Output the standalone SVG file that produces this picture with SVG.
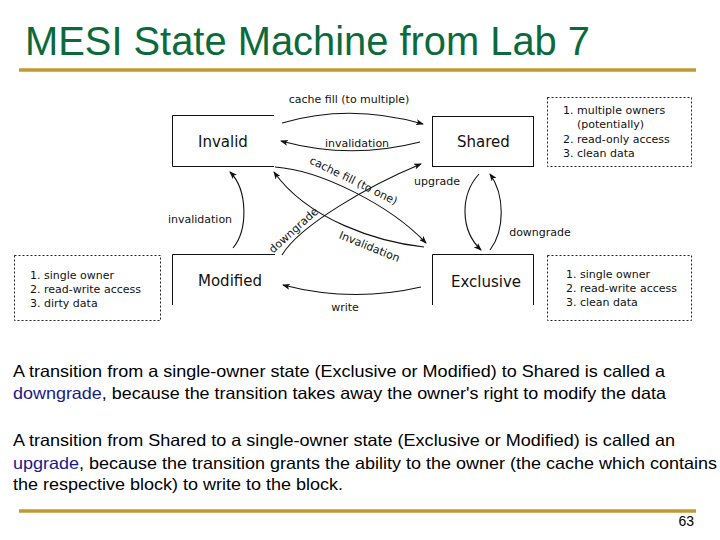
<svg xmlns="http://www.w3.org/2000/svg" width="720" height="540" viewBox="0 0 720 540">
<style>
.title{font-family:"Liberation Sans",Arial,sans-serif;font-size:40px;fill:#0b6a3b}
.body{font-family:"Liberation Sans",Arial,sans-serif;font-size:16.5px;fill:#000}
.link{fill:#1a1a8c}
.state{font-family:"DejaVu Sans",sans-serif;font-size:15px;fill:#111}
.lbl{font-family:"DejaVu Sans",sans-serif;font-size:11px;fill:#111}
.box{fill:none;stroke:#111;stroke-width:1}
.note{fill:none;stroke:#222;stroke-width:1;stroke-dasharray:2,2}
.edge{fill:none;stroke:#111;stroke-width:1.1}
.rule{stroke:#c09a30;stroke-width:3.5}
</style>
<defs>
<marker id="arr" markerWidth="8" markerHeight="6" refX="7" refY="3" orient="auto" markerUnits="userSpaceOnUse">
<path d="M0,0 L8,3 L0,6 L2,3 z" fill="#111"/>
</marker>
</defs>
<rect width="720" height="540" fill="#fff"/>
<text class="title" x="25" y="55" textLength="565" lengthAdjust="spacingAndGlyphs">MESI State Machine from Lab 7</text>
<line class="rule" x1="19" y1="70" x2="696" y2="70"/>

<g id="invalid">
<path class="box" d="M274,115.5 H172.5 V166.5 H274"/>
<text class="state" x="198" y="147">Invalid</text>
</g>
<g id="shared">
<rect class="box" x="432.5" y="116.5" width="101" height="50"/>
<text class="state" x="457" y="147">Shared</text>
</g>
<g id="modified">
<path class="box" d="M172.5,305 V254.5 H275"/>
<text class="state" x="198" y="286">Modified</text>
</g>
<g id="exclusive">
<path class="box" d="M432.5,305 V254.5 H533.5 V305"/>
<text class="state" x="451" y="287">Exclusive</text>
</g>
<g id="note-shared">
<rect class="note" x="547.5" y="97.5" width="144" height="69"/>
<text class="lbl" x="563" y="114">1. multiple owners</text>
<text class="lbl" x="577" y="128">(potentially)</text>
<text class="lbl" x="563" y="143">2. read-only access</text>
<text class="lbl" x="563" y="157">3. clean data</text>
</g>
<g id="note-exclusive">
<rect class="note" x="547.5" y="255.5" width="144" height="65"/>
<text class="lbl" x="566" y="278">1. single owner</text>
<text class="lbl" x="566" y="292">2. read-write access</text>
<text class="lbl" x="566" y="306">3. clean data</text>
</g>
<g id="note-modified">
<rect class="note" x="14.5" y="255.5" width="146" height="65"/>
<text class="lbl" x="30" y="279">1. single owner</text>
<text class="lbl" x="30" y="293">2. read-write access</text>
<text class="lbl" x="30" y="307">3. dirty data</text>
</g>

<g id="connectors">
<path class="edge" d="M282,123 Q350,103 423,124" marker-end="url(#arr)"/>
<path class="edge" d="M420,142 Q350,160 281,141" marker-end="url(#arr)"/>
<path class="edge" d="M275,167 C320,170 390,205 426,243" marker-end="url(#arr)"/>
<path class="edge" d="M424,247 C378,242 308,220 274,172" marker-end="url(#arr)"/>
<path class="edge" d="M282,255 C300,225 370,185 421,164" marker-end="url(#arr)"/>
<path class="edge" d="M479,174 C460,195 460,230 481,250" marker-end="url(#arr)"/>
<path class="edge" d="M490,250 C505,230 505,195 490,174" marker-end="url(#arr)"/>
<path class="edge" d="M233,248 C248,230 248,190 230,172" marker-end="url(#arr)"/>
<path class="edge" d="M421,287 Q352,303 283,285" marker-end="url(#arr)"/>
<text class="lbl" x="349" y="103" text-anchor="middle">cache fill (to multiple)</text>
<text class="lbl" x="357" y="147" text-anchor="middle">invalidation</text>
<text class="lbl" x="352" y="184" text-anchor="middle" transform="rotate(26 352 184)">cache fill (to one)</text>
<text class="lbl" x="437" y="185" text-anchor="middle">upgrade</text>
<text class="lbl" x="540" y="236" text-anchor="middle">downgrade</text>
<text class="lbl" x="200" y="223" text-anchor="middle">invalidation</text>
<text class="lbl" x="368" y="250" text-anchor="middle" transform="rotate(22 368 250)">Invalidation</text>
<text class="lbl" x="296" y="233" text-anchor="middle" transform="rotate(-42 296 233)">downgrade</text>
<text class="lbl" x="345" y="311" text-anchor="middle">write</text>
</g>

<text class="body" x="13" y="377" textLength="652" lengthAdjust="spacingAndGlyphs">A transition from a single-owner state (Exclusive or Modified) to Shared is called a</text>
<text class="body" x="13" y="399" textLength="653" lengthAdjust="spacingAndGlyphs"><tspan class="link">downgrade</tspan>, because the transition takes away the owner's right to modify the data</text>
<text class="body" x="13" y="446" textLength="662" lengthAdjust="spacingAndGlyphs">A transition from Shared to a single-owner state (Exclusive or Modified) is called an</text>
<text class="body" x="13" y="469" textLength="704" lengthAdjust="spacingAndGlyphs"><tspan class="link">upgrade</tspan>, because the transition grants the ability to the owner (the cache which contains</text>
<text class="body" x="13" y="490" textLength="330" lengthAdjust="spacingAndGlyphs">the respective block) to write to the block.</text>
<line class="rule" x1="19" y1="511" x2="696" y2="511"/>
<text class="body" x="694" y="526" text-anchor="end" style="font-size:14px">63</text>
</svg>
